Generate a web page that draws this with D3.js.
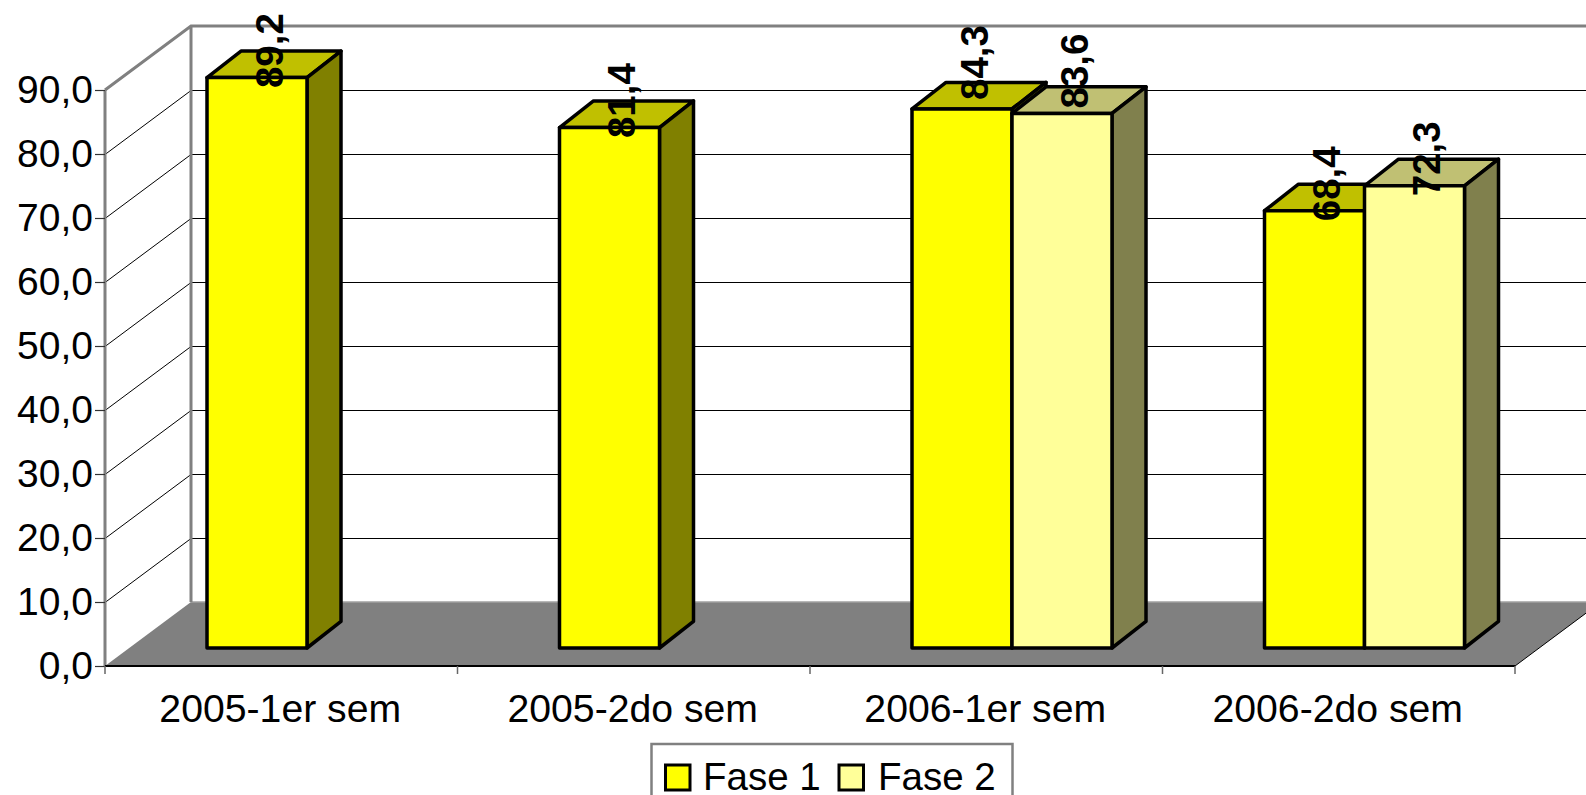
<!DOCTYPE html>
<html><head><meta charset="utf-8">
<script src="https://cdn.jsdelivr.net/npm/d3@7"></script>
<style>html,body{margin:0;padding:0;background:#fff;overflow:hidden}svg{display:block}text{font-family:"Liberation Sans",Arial,sans-serif;fill:#000}</style>
</head><body><svg id="c" width="1586" height="795"></svg>
<script>
const categories = ["2005-1er sem","2005-2do sem","2006-1er sem","2006-2do sem"];
const seriesNames = ["Fase 1","Fase 2"];
const fase1 = [89.2,81.4,84.3,68.4];
const fase2 = [null,null,83.6,72.3];
const yTicks = [0,10,20,30,40,50,60,70,80,90];

const fmt = v => d3.format(".1f")(v).replace(".",",");
const W=1586,H=795;
const svg=d3.select("#c");
const x=d3.scaleBand().domain(categories).range([105,1515]);
const y=d3.scaleLinear().domain([0,90]).range([666,90]);
const xs=d3.scaleBand().domain(seriesNames).range([102,302]);
// 3D layout
const wallDx=86, wallDy=-64, barDx=34, barDy=-26.6, baseDy=-17.5;
const right=1515, left=105;
const col={ "Fase 1":{front:"#ffff00",top:"#c0c000",side:"#808000"},
            "Fase 2":{front:"#ffff99",top:"#c0c073",side:"#80804d"} };
const P=pts=>"M"+pts.map(p=>p.join(",")).join("L")+"Z";

// floor
svg.append("path").attr("d",P([[left,y(0)],[right,y(0)],[right+wallDx,y(0)+wallDy],[left+wallDx,y(0)+wallDy]])).attr("fill","#808080");
svg.append("line").attr("x1",left+wallDx).attr("x2",W).attr("y1",y(0)+wallDy).attr("y2",y(0)+wallDy).attr("stroke","#a0a0a0").attr("stroke-width",1.5);
// gridlines
yTicks.slice(1).forEach(t=>{
  svg.append("path").attr("fill","none").attr("stroke","#000").attr("stroke-width",1)
    .attr("d",`M${left},${y(t)+0.5}L${left+wallDx},${y(t)+wallDy+0.5}L${W},${y(t)+wallDy+0.5}`);
});
// wall frame
const topBack=y(90)+wallDy;
svg.append("path").attr("fill","none").attr("stroke","#808080").attr("stroke-width",3)
  .attr("d",`M${left},${y(90)}L${left+wallDx},${topBack}L${W},${topBack}M${left+wallDx},${topBack}L${left+wallDx},${y(0)+wallDy}`);
svg.append("line").attr("x1",left).attr("x2",left).attr("y1",y(90)).attr("y2",y(0)).attr("stroke","#808080").attr("stroke-width",3);
svg.append("line").attr("x1",right).attr("x2",right+wallDx).attr("y1",y(0)).attr("y2",y(0)+wallDy).attr("stroke","#000").attr("stroke-width",1);

// axes
const ax=svg.append("g").attr("transform",`translate(${left},0)`)
  .call(d3.axisLeft(y).tickValues(yTicks).tickFormat(fmt).tickSize(10).tickPadding(2));
ax.select(".domain").remove();
ax.selectAll("line").attr("stroke","#333").attr("stroke-width",1.2);
ax.selectAll("text").attr("font-size",39);
svg.append("line").attr("x1",left).attr("x2",right).attr("y1",y(0)).attr("y2",y(0)).attr("stroke","#000").attr("stroke-width",2);
const bx=svg.append("g").attr("transform",`translate(-1,${y(0)})`)
  .call(d3.axisBottom(x).tickSize(0).tickPadding(28));
bx.select(".domain").remove();
bx.selectAll("text").attr("font-size",39.2);
[...categories.map(c=>x(c)),right].forEach(v=>{
  svg.append("line").attr("x1",v).attr("x2",v).attr("y1",y(0)).attr("y2",y(0)+8).attr("stroke","#666").attr("stroke-width",1.5);
});

// bars
const bars=[];
categories.forEach((c,i)=>{
  [fase1,fase2].forEach((arr,s)=>{
    if(arr[i]!==null) bars.push({c,i,name:seriesNames[s],v:arr[i]});
  });
});
const g=svg.append("g").attr("stroke","#000").attr("stroke-width",3.5).attr("stroke-linejoin","round");
bars.forEach(b=>{
  const x0=x(b.c)+xs(b.name), x1=x0+xs.bandwidth();
  const yt=y(b.v)+baseDy, yb=y(0)+baseDy-0.5;
  g.append("path").attr("fill",col[b.name].top).attr("d",P([[x0,yt],[x1,yt],[x1+barDx,yt+barDy],[x0+barDx,yt+barDy]]));
  g.append("path").attr("fill",col[b.name].side).attr("d",P([[x1,yt],[x1+barDx,yt+barDy],[x1+barDx,yb+barDy],[x1,yb]]));
  g.append("path").attr("fill",col[b.name].front).attr("d",P([[x0,yt],[x1,yt],[x1,yb],[x0,yb]]));
});
// value labels, rotated; the two 2006-1er labels sit higher in the original
const labelOverlap=(c,n)=> c==="2006-1er sem" ? (n==="Fase 1"?-9:-5) : 10.5;
bars.forEach(b=>{
  const x0=x(b.c)+xs(b.name);
  const yb=y(b.v)+baseDy+labelOverlap(b.c,b.name);
  svg.append("text").attr("transform",`translate(${x0+75.5},${yb}) rotate(-90)`)
    .attr("font-size",38.5).attr("font-weight","bold").text(fmt(b.v));
});

// legend
svg.append("rect").attr("x",651.5).attr("y",744).attr("width",361).attr("height",70).attr("fill","#fff").attr("stroke","#808080").attr("stroke-width",2.5);
const lg=[{n:seriesNames[0],sx:665.5,tx:703},{n:seriesNames[1],sx:839,tx:878}];
lg.forEach(l=>{
  svg.append("rect").attr("x",l.sx).attr("y",765).attr("width",24.5).attr("height",25).attr("fill",col[l.n].front).attr("stroke","#000").attr("stroke-width",3);
  svg.append("text").attr("x",l.tx).attr("y",790).attr("font-size",38.5).text(l.n);
});
</script></body></html>
